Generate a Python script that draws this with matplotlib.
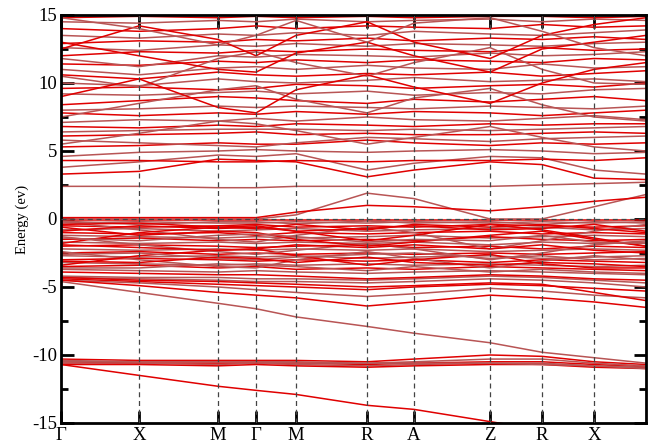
import matplotlib
matplotlib.use("Agg")
import matplotlib.pyplot as plt
from matplotlib.ticker import MultipleLocator

plt.rcParams['font.family'] = ['Liberation Serif', 'DejaVu Serif']
plt.rcParams['axes.unicode_minus'] = False

# k-path node positions (path length units) and labels
k_nodes = [0, 78, 157, 195, 235, 306, 353, 429, 481, 533, 585]
k_labels = ['Γ', 'X', 'M', 'Γ', 'M', 'R', 'A', 'Z', 'R', 'X', '']

# band energies (eV) at each k node
core_bands = [
    [-10.3, -10.4, -10.4, -10.4, -10.4, -10.5, -10.3, -10.0, -10.1, -10.5, -10.7],
    [-10.4, -10.5, -10.5, -10.5, -10.5, -10.6, -10.5, -10.3, -10.3, -10.6, -10.8],
    [-10.5, -10.6, -10.6, -10.6, -10.6, -10.7, -10.6, -10.5, -10.5, -10.7, -10.9],
    [-10.6, -10.6, -10.7, -10.6, -10.7, -10.8, -10.7, -10.6, -10.6, -10.8, -10.9],
    [-10.7, -10.7, -10.8, -10.7, -10.8, -10.9, -10.8, -10.7, -10.7, -10.9, -11.0],
    [-10.5, -10.5, -10.5, -10.5, -10.6, -10.6, -10.6, -10.6, -10.7, -10.8, -11.0],
    [-10.7, -11.5, -12.3, -12.6, -12.9, -13.7, -14.0, -14.9, -15.5, -16.0, -16.5],
]

lower_valence = [
    [-4.3, -4.4, -4.5, -4.6, -4.6, -4.7, -4.6, -4.4, -4.5, -4.7, -5.0],
    [-4.4, -4.6, -4.8, -4.9, -5.0, -5.2, -5.0, -4.8, -4.9, -5.1, -5.3],
    [-4.5, -4.7, -5.0, -5.2, -5.4, -5.7, -5.5, -5.1, -5.3, -5.6, -5.8],
    [-4.5, -4.9, -5.4, -5.6, -5.8, -6.4, -6.1, -5.6, -5.8, -6.1, -6.5],
    [-4.2, -4.3, -4.3, -4.4, -4.4, -4.5, -4.4, -4.2, -4.3, -4.5, -4.7],
    [-4.3, -4.5, -4.6, -4.7, -4.8, -5.0, -4.9, -4.7, -4.8, -5.4, -6.0],
    [-4.6, -5.4, -6.2, -6.6, -7.2, -7.9, -8.4, -9.1, -9.8, -10.2, -10.6],
]

valence = [
    [-0.1, -0.1, -0.1, -0.1, -0.1, -0.1, -0.1, -0.1, -0.1, -0.1, -0.1],
    [-0.3, -0.2, -0.3, -0.3, -0.2, -0.3, -0.2, -0.3, -0.2, -0.3, -0.2],
    [-0.5, -0.6, -0.5, -0.4, -0.6, -0.5, -0.6, -0.4, -0.5, -0.6, -0.5],
    [-0.8, -0.7, -0.9, -0.8, -0.7, -0.9, -0.8, -0.7, -0.6, -0.8, -0.7],
    [-1.0, -1.1, -1.0, -1.2, -1.0, -1.1, -1.0, -0.9, -1.1, -1.0, -1.1],
    [-1.2, -1.3, -1.4, -1.3, -1.4, -1.3, -1.2, -1.4, -1.3, -1.2, -1.3],
    [-1.5, -1.4, -1.6, -1.5, -1.6, -1.5, -1.6, -1.3, -1.5, -1.6, -1.5],
    [-1.7, -1.8, -1.7, -1.8, -1.7, -1.8, -1.7, -1.9, -1.7, -1.8, -1.7],
    [-2.0, -1.9, -2.0, -2.1, -2.0, -1.9, -2.1, -2.0, -2.2, -2.0, -2.1],
    [-2.2, -2.3, -2.2, -2.3, -2.2, -2.3, -2.2, -2.4, -2.3, -2.2, -2.3],
    [-2.5, -2.4, -2.6, -2.5, -2.6, -2.5, -2.6, -2.5, -2.6, -2.5, -2.4],
    [-2.7, -2.8, -2.7, -2.8, -2.7, -2.9, -2.8, -2.7, -2.9, -2.8, -2.7],
    [-3.0, -2.9, -3.0, -3.1, -3.0, -3.1, -3.0, -3.2, -3.0, -3.1, -3.2],
    [-3.2, -3.3, -3.4, -3.3, -3.4, -3.3, -3.4, -3.3, -3.4, -3.5, -3.4],
    [-3.5, -3.4, -3.6, -3.5, -3.7, -3.6, -3.7, -3.5, -3.6, -3.7, -3.8],
    [-3.7, -3.8, -3.9, -3.8, -3.9, -4.0, -3.9, -3.8, -3.9, -4.0, -4.1],
    [-3.9, -4.0, -4.1, -4.1, -4.2, -4.4, -4.3, -4.1, -4.2, -4.4, -4.5],
    [-0.2, -0.8, -1.5, -1.7, -1.2, -0.6, -1.0, -2.2, -1.6, -0.9, -0.4],
    [-1.8, -1.0, -0.6, -0.5, -0.9, -1.6, -1.2, -0.4, -0.8, -1.4, -2.0],
    [-2.4, -3.0, -3.5, -3.6, -3.0, -2.4, -2.9, -3.6, -3.1, -2.7, -3.0],
    [-3.4, -2.7, -2.3, -2.2, -2.7, -3.4, -3.0, -2.6, -3.3, -3.6, -3.6],
    [-1.3, -1.9, -2.4, -2.6, -2.3, -1.8, -2.2, -3.0, -2.5, -1.9, -1.6],
    [-0.6, -1.2, -0.9, -1.0, -1.5, -2.0, -1.7, -1.2, -0.9, -1.5, -2.0],
    [-0.15, -0.4, -0.2, -0.2, -0.35, -0.15, -0.3, -0.2, -0.4, -0.2, -0.3],
    [-0.9, -0.5, -0.7, -0.6, -0.9, -0.7, -0.5, -0.8, -0.7, -0.4, -0.9],
    [-1.4, -1.6, -1.2, -1.1, -1.3, -1.7, -1.5, -1.6, -1.2, -1.7, -1.8],
    [-1.9, -2.1, -2.3, -2.2, -1.9, -2.1, -1.9, -2.2, -1.9, -2.3, -2.5],
    [-2.6, -2.5, -2.9, -3.0, -2.8, -2.6, -2.5, -2.9, -2.7, -3.0, -2.9],
    [-3.1, -3.2, -2.8, -2.9, -3.2, -2.8, -3.2, -3.4, -3.2, -3.3, -3.5],
    [-3.6, -3.6, -3.3, -3.4, -3.5, -3.8, -3.5, -3.9, -3.7, -3.9, -4.0],
    [-0.4, -0.3, -0.6, -0.7, -0.4, -0.8, -0.4, -0.6, -0.4, -0.7, -1.0],
]

conduction = [
    [0.0, 0.0, 0.0, 0.0, 0.3, 1.9, 1.5, 0.0, 0.0, 0.9, 1.8],
    [0.1, 0.1, 0.1, 0.1, 0.5, 1.0, 0.9, 0.6, 0.9, 1.3, 1.6],
    [2.4, 2.4, 2.3, 2.3, 2.4, 2.4, 2.4, 2.4, 2.5, 2.6, 2.7],
    [3.3, 3.5, 4.4, 4.3, 4.2, 3.1, 3.6, 4.2, 4.0, 3.0, 2.9],
    [3.8, 4.2, 4.7, 4.6, 4.8, 3.6, 4.1, 4.6, 4.5, 3.6, 3.3],
    [4.3, 4.3, 4.2, 4.2, 4.3, 4.2, 4.3, 4.3, 4.4, 4.3, 4.5],
    [4.6, 4.9, 5.0, 5.1, 5.0, 4.9, 5.0, 5.1, 5.0, 4.8, 4.9],
    [5.3, 5.4, 5.6, 5.5, 5.5, 5.8, 5.6, 5.4, 5.6, 5.5, 5.6],
    [5.8, 5.6, 5.4, 5.3, 5.6, 6.0, 5.9, 5.7, 5.9, 6.0, 6.1],
    [6.1, 6.2, 6.3, 6.4, 6.2, 6.3, 6.2, 6.2, 6.3, 6.4, 6.3],
    [6.4, 6.5, 6.6, 6.6, 6.6, 6.5, 6.6, 6.5, 6.6, 6.7, 6.8],
    [6.8, 6.7, 6.9, 6.8, 7.0, 6.9, 6.8, 7.0, 6.9, 7.0, 7.0],
    [7.1, 7.3, 7.2, 7.4, 7.2, 7.5, 7.3, 7.2, 7.4, 7.6, 7.3],
    [7.8, 7.6, 7.8, 7.7, 7.9, 7.7, 7.9, 7.8, 7.6, 7.8, 8.0],
    [8.0, 8.1, 8.3, 8.2, 8.3, 8.2, 8.1, 8.3, 8.2, 8.1, 8.3],
    [8.4, 8.7, 9.0, 8.9, 8.7, 8.5, 8.8, 8.6, 8.8, 9.0, 8.7],
    [9.2, 9.1, 9.3, 9.4, 9.2, 9.4, 9.1, 9.3, 9.2, 9.5, 9.6],
    [9.6, 9.7, 9.5, 9.6, 9.9, 9.8, 9.6, 9.8, 9.9, 9.7, 10.0],
    [10.0, 9.8, 10.3, 10.1, 10.0, 10.2, 10.4, 10.1, 10.2, 10.3, 10.1],
    [10.6, 10.3, 10.8, 10.6, 10.5, 10.7, 10.6, 10.8, 10.5, 10.7, 10.9],
    [11.0, 10.6, 11.1, 11.2, 11.0, 11.3, 11.1, 11.0, 11.4, 11.1, 11.2],
    [11.4, 11.3, 11.6, 11.5, 11.7, 11.5, 11.7, 11.6, 11.5, 11.8, 11.7],
    [11.8, 11.2, 12.0, 11.9, 12.1, 12.0, 11.9, 12.2, 12.0, 12.1, 12.3],
    [12.0, 12.3, 12.2, 12.4, 12.3, 12.5, 12.4, 12.3, 12.6, 12.4, 12.5],
    [12.6, 12.4, 12.8, 12.7, 12.9, 12.7, 12.9, 12.8, 12.7, 12.9, 13.0],
    [12.9, 13.1, 13.0, 13.2, 13.1, 13.3, 13.1, 13.3, 13.2, 13.4, 13.2],
    [13.5, 13.3, 13.6, 13.5, 13.7, 13.5, 13.8, 13.6, 13.5, 13.7, 13.9],
    [14.0, 13.8, 14.0, 14.2, 14.0, 14.2, 14.1, 14.0, 14.3, 14.1, 14.2],
    [14.5, 14.4, 14.6, 14.5, 14.7, 14.5, 14.6, 14.7, 14.5, 14.7, 14.6],
    [14.8, 14.9, 14.8, 14.9, 14.8, 14.9, 14.8, 14.9, 14.9, 14.8, 14.9],
    [10.5, 9.7, 11.8, 12.3, 11.5, 10.5, 11.5, 12.6, 11.0, 10.0, 9.9],
    [12.5, 14.2, 13.2, 12.0, 13.5, 14.5, 13.0, 11.8, 13.5, 14.3, 14.8],
    [7.5, 8.5, 9.5, 9.8, 8.8, 7.8, 8.9, 9.6, 8.4, 7.5, 7.2],
    [9.0, 10.3, 8.2, 7.8, 9.5, 10.6, 9.7, 8.5, 10.0, 11.0, 11.5],
    [5.5, 6.3, 7.2, 7.0, 6.5, 5.5, 6.0, 6.8, 6.0, 5.3, 5.0],
    [13.0, 12.0, 11.0, 10.8, 12.2, 13.0, 12.0, 10.8, 12.5, 13.0, 13.5],
    [14.8, 14.0, 12.8, 13.5, 14.6, 13.0, 14.4, 14.8, 13.8, 12.6, 12.0],
]

fig = plt.figure(figsize=(6.53, 4.46), dpi=100)
ax = fig.add_axes([0.0934, 0.0516, 0.8960, 0.9148])

colors = ['#e00000', '#b85555']
all_bands = core_bands + lower_valence + valence + conduction
for i, band in enumerate(all_bands):
    ax.plot(k_nodes, band, color=colors[i % 2], lw=1.1, zorder=2,
            solid_capstyle='butt')

for xk in k_nodes[1:-1]:
    ax.axvline(xk, color='#444444', lw=0.9, ls=(0, (4, 3)), zorder=3)
ax.axhline(0, color='#444444', lw=0.9, ls=(0, (4, 3)), zorder=3)

ax.set_xlim(k_nodes[0], k_nodes[-1])
ax.set_ylim(-15, 15)
ax.set_xticks(k_nodes[:-1])
ax.set_xticklabels(k_labels[:-1])
ax.yaxis.set_major_locator(MultipleLocator(5))
ax.yaxis.set_minor_locator(MultipleLocator(2.5))
ax.tick_params(axis='both', which='major', direction='in', length=9, width=2,
               top=True, right=True, labelsize=13.5, pad=3)
ax.tick_params(axis='y', which='minor', direction='in', length=5, width=2,
               right=True)
for s in ax.spines.values():
    s.set_linewidth(2)
ax.set_ylabel('Energy (ev)', fontsize=10.5, labelpad=2)

fig.savefig('out.png', dpi=100)
